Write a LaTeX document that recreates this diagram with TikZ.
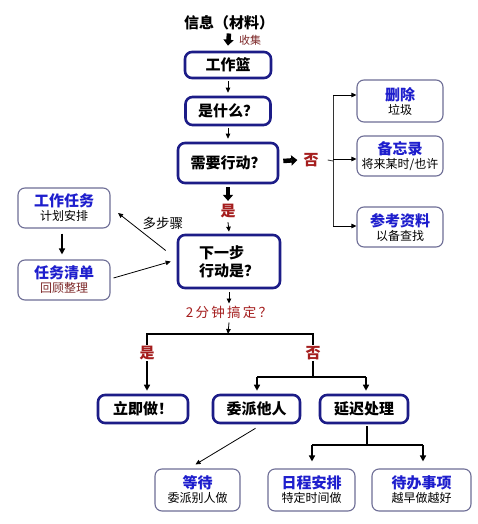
\documentclass[tikz,border=0pt]{standalone}
\usepackage{fontspec}
\setmainfont{Noto Sans CJK SC}
\usetikzlibrary{arrows.meta,calc}
\definecolor{navy}{RGB}{28,28,135}
\definecolor{subline}{RGB}{110,110,150}
\definecolor{ttlblue}{RGB}{30,30,205}
\definecolor{dred}{RGB}{165,30,30}
\definecolor{brn}{RGB}{125,40,40}
\newcommand{\subbox}[3][black]{{\fontsize{15}{17}\selectfont\bfseries\color{ttlblue}#2}\\[2pt]{\fontsize{12}{13}\selectfont\color{#1}#3}}
\tikzset{
  mainbox/.style={draw=navy,line width=2.6pt,rounded corners=7pt,fill=white,font=\fontsize{15}{18}\selectfont\bfseries,inner sep=0pt,align=center},
  subbx/.style={draw=subline,line width=1.1pt,rounded corners=7pt,fill=white,inner sep=0pt,align=center},
  redlab/.style={text=dred,font=\fontsize{15}{17}\selectfont\bfseries,inner sep=1pt},
  thin/.style={-{Triangle[width=4.5pt,length=5pt]},line width=0.8pt},
  med/.style={line width=1.6pt},
  medarr/.style={-{Triangle[width=6pt,length=6pt]},line width=1.6pt},
  fat/.style={-{Triangle[width=10pt,length=6pt]},line width=4.5pt},
}
\begin{document}
\begin{tikzpicture}[x=1pt,y=-1pt]
\useasboundingbox (0,0) rectangle (478,524);
\fill[white] (0,0) rectangle (478,524);
% top
\node[font=\fontsize{15}{17}\selectfont\bfseries,inner sep=1pt] (info) at (229,23) {信息（材料）};
\node[text=brn,font=\fontsize{11}{13}\selectfont,inner sep=0pt] (collect) at (250,40) {收集};
\node[mainbox,minimum width=86pt,minimum height=26pt] (basket) at (228,65) {工作篮};
\node[mainbox,minimum width=85pt,minimum height=28pt] (what) at (228,111) {是什么？};
\node[mainbox,minimum width=100pt,minimum height=40pt] (need) at (228,163) {需要行动？};
\node[redlab] (no1) at (311,160) {否};
\node[redlab] (yes1) at (228,211) {是};
\node[mainbox,minimum width=102pt,minimum height=53pt,align=left] (next) at (229,261.5) {下一步\\ 行动是？};
\node[text=dred,font=\fontsize{13.5}{15}\selectfont,inner sep=1pt] (two) at (229,312) {2\,分\,钟\,搞\,定\,？};
% right column
\node[subbx,minimum width=86pt,minimum height=42pt] (del) at (400,101) {\subbox{删除}{垃圾}};
\node[subbx,minimum width=86pt,minimum height=40pt] (memo) at (400,156) {\subbox{备忘录}{将来某时/也许}};
\node[subbx,minimum width=86pt,minimum height=40pt] (ref) at (400,227) {\subbox{参考资料}{以备查找}};
% left column
\node[subbx,minimum width=92pt,minimum height=40pt] (task) at (64,208) {\subbox{工作任务}{计划安排}};
\node[subbx,minimum width=92pt,minimum height=40pt] (list) at (64,280) {\subbox[brn]{任务清单}{回顾整理}};
% bottom
\node[redlab] (yes2) at (147,353) {是};
\node[redlab] (no2) at (313,353) {否};
\node[mainbox,minimum width=90pt,minimum height=28pt] (now) at (143,409) {立即做！};
\node[mainbox,minimum width=87pt,minimum height=28pt] (dele) at (256.5,409) {委派他人};
\node[mainbox,minimum width=88pt,minimum height=28pt] (defer) at (364,409) {延迟处理};
\node[subbx,minimum width=85pt,minimum height=42pt] (wait) at (197.5,490) {\subbox{等待}{委派别人做}};
\node[subbx,minimum width=87pt,minimum height=42pt] (sched) at (311.5,490) {\subbox{日程安排}{特定时间做}};
\node[subbx,minimum width=99pt,minimum height=42pt] (todo) at (421.5,490) {\subbox{待办事项}{越早做越好}};
% coordinates
\coordinate (br) at (333,161);
\coordinate (brtop) at (333,95);
\coordinate (brbot) at (333,226);
\coordinate (hl) at (147,334);
\coordinate (hr) at (313,334);
\coordinate (hm) at (228,334);
\coordinate (h2m) at (313,377);
\coordinate (h2l) at (257,377);
\coordinate (h2r) at (366,377);
\coordinate (h3m) at (367,445);
\coordinate (h3l) at (312,445);
\coordinate (h3r) at (423,445);
% connectors
\draw[fat] (info.south) ++(0,2) -- ($(basket.north)+(0,-5)$);
\draw[thin] (basket.south) ++(0,2) -- ($(what.north)+(0,-3)$);
\draw[thin] (what.south) ++(0,2) -- ($(need.north)+(0,-3)$);
\draw[fat] ($(need.east)+(4,-2)$) -- ($(no1.west)+(-5,0)$);
\draw[fat] ($(need.south)+(0,3)$) -- ($(yes1.north)+(0,-2)$);
\draw[thin] ($(yes1.south)+(0,3)$) -- ($(next.north)+(0,-2)$);
\draw[line width=0.8pt,black!80] (no1.east) ++(8,0) -- (br);
\draw[line width=0.8pt,black!80] (brtop) -- (brbot);
\draw[thin] (brtop) -- (brtop -| del.west);
\draw[thin] (333,159) -- (memo.west |- 0,159);
\draw[thin] (brbot) -- (brbot -| ref.west);
\draw[thin] ($(next.west)+(-11,-11)$) -- node[midway,xshift=21pt,yshift=8.5pt,font=\fontsize{13.5}{15}\selectfont,inner sep=1pt] (multi) {多步骤} (118,213);
\draw[thin] ($(list.east)+(3,-2)$) -- ($(next.west)+(-6,0)$);
\draw[medarr] ($(task.south)+(-2,5)$) -- ($(list.north)+(-2,-5)$);
\draw[thin] ($(next.south)+(0,3)$) -- ($(two.north)+(0,-1)$);
\draw[thin] ($(two.south)+(0,3)$) -- (hm);
\draw[med] (yes2.north) -- (hl) -- (hr) -- (no2.north);
\draw[medarr] (yes2.south) -- ($(now.north)+(4,-3)$);
\draw[med] (no2.south) -- (h2m);
\draw[med] (h2l) -- (h2r);
\draw[medarr] (h2l) -- ($(dele.north)+(0.5,-3)$);
\draw[medarr] (h2r) -- ($(defer.north)+(2,-3)$);
\draw[thin] ($(dele.south)+(-1,4)$) -- ($(wait.north)+(-2,-4)$);
\draw[med] ($(defer.south)+(3,2)$) -- (h3m);
\draw[med] (h3l) -- (h3r);
\draw[medarr] (h3l) -- ($(sched.north)+(0.5,-7)$);
\draw[medarr] (h3r) -- ($(todo.north)+(1.5,-7)$);
\end{tikzpicture}
\end{document}
